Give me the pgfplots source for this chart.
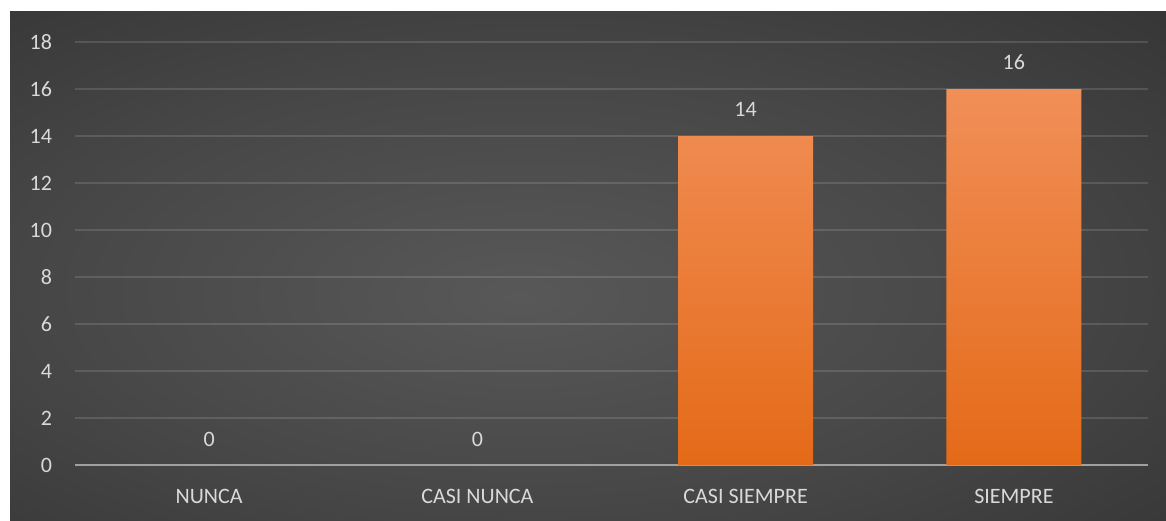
\documentclass[border=0pt]{standalone}
\usepackage{fontspec}
\setmainfont{Carlito}
\usepackage{pgfplots}
\pgfplotsset{compat=1.18}
\definecolor{bgin}{RGB}{88,88,88}
\definecolor{bgmid}{RGB}{70,70,70}
\definecolor{bgout}{RGB}{38,38,38}
\definecolor{bartop}{RGB}{241,143,88}
\definecolor{barbot}{RGB}{228,106,24}
\definecolor{txt}{RGB}{217,217,217}
\definecolor{axgray}{RGB}{160,160,160}
\pgfdeclareradialshading{bgshade}{\pgfpoint{-3bp}{-3bp}}{color(0bp)=(bgin); color(22bp)=(bgmid); color(55bp)=(bgout); color(100bp)=(bgout)}

\begin{document}
\begin{tikzpicture}[x=1pt,y=1pt]
% page and dark chart area
\fill[white] (0,0) rectangle (583,260);
\shade[shading=bgshade] (5,0) rectangle (583,254);
\begin{axis}[
at={(37.5pt,27.5pt)}, anchor=south west,
scale only axis, width=536.5pt, height=211.5pt,
ymin=0, ymax=18, ytick={0,2,...,18},
xmin=-0.5, xmax=3.5, xtick={0,1,2,3},
xticklabels={NUNCA,CASI NUNCA,CASI SIEMPRE,SIEMPRE},
separate axis lines,
axis x line*=bottom, axis y line*=left,
y axis line style={draw=none},
x axis line style={draw=axgray, line width=1pt, -},
major tick length=0pt,
ymajorgrids,
grid style={white, opacity=0.13, line width=1pt},
/pgf/number format/assume math mode=true,
tick label style={font=\fontsize{11}{13}\selectfont, text=txt},
yticklabel style={xshift=-8pt},
xticklabel style={yshift=-8.5pt},
clip=false,
]
\addplot[ybar, bar width=67.5pt, draw=none, top color=bartop, bottom color=barbot,
  nodes near coords,
  nodes near coords style={text=txt, font=\fontsize{11}{13}\selectfont, yshift=6pt}]
  coordinates {(2,14) (3,16)};
\addplot[draw=none, mark=none,
  nodes near coords,
  nodes near coords style={text=txt, font=\fontsize{11}{13}\selectfont, yshift=5.5pt}]
  coordinates {(0,0) (1,0)};
\end{axis}
\end{tikzpicture}
\end{document}
